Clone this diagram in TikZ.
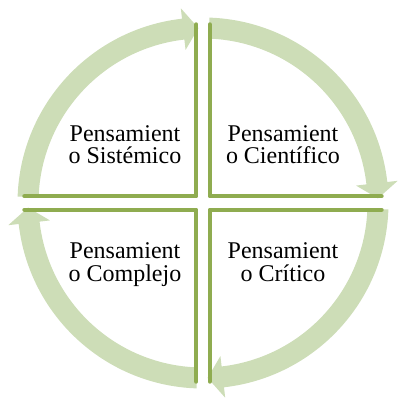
\documentclass[tikz,border=0pt]{standalone}
\usepackage{fontspec}
\setmainfont{Liberation Serif}
\usepackage{tikz}
\usetikzlibrary{positioning}

\definecolor{arrowgreen}{RGB}{205,221,183}
\definecolor{linegreen}{RGB}{143,172,80}

\newcommand{\cyclearrow}[1]{%
\fill[arrowgreen, rotate=#1] (88:185.5) arc[start angle=88, end angle=6.5, radius=185.5]
  -- (6.5:196) -- (1.5:175) -- (6.5:154) -- (6.5:164.5)
  arc[start angle=6.5, end angle=88, radius=164.5] -- cycle;}

\begin{document}
\begin{tikzpicture}[x=1pt, y=1pt,
  quadline/.style={draw=linegreen, line width=4pt, line cap=round, line join=round},
  label/.style={align=center, anchor=base, font=\fontsize{24}{22.5}\selectfont}]
\useasboundingbox (-203,-195) rectangle (195,203);
\cyclearrow{90}
\cyclearrow{0}
\cyclearrow{-90}
\cyclearrow{180}
\draw[quadline] (-178.7,6.7) -- (-6.7,6.7) -- (-6.7,178.7);
\draw[quadline] (6.7,178.7) -- (6.7,6.7) -- (178.7,6.7);
\draw[quadline] (178.7,-6.7) -- (6.7,-6.7) -- (6.7,-178.7);
\draw[quadline] (-6.7,-178.7) -- (-6.7,-6.7) -- (-178.7,-6.7);
\node[label] (sistemico) at (-78,39) {Pensamient\\o Sistémico};
\node[label] (cientifico) at (80,39) {Pensamient\\o Científico};
\node[label] (critico) at (80,-78) {Pensamient\\o Crítico};
\node[label] (complejo) at (-78,-78) {Pensamient\\o Complejo};
\end{tikzpicture}
\end{document}
